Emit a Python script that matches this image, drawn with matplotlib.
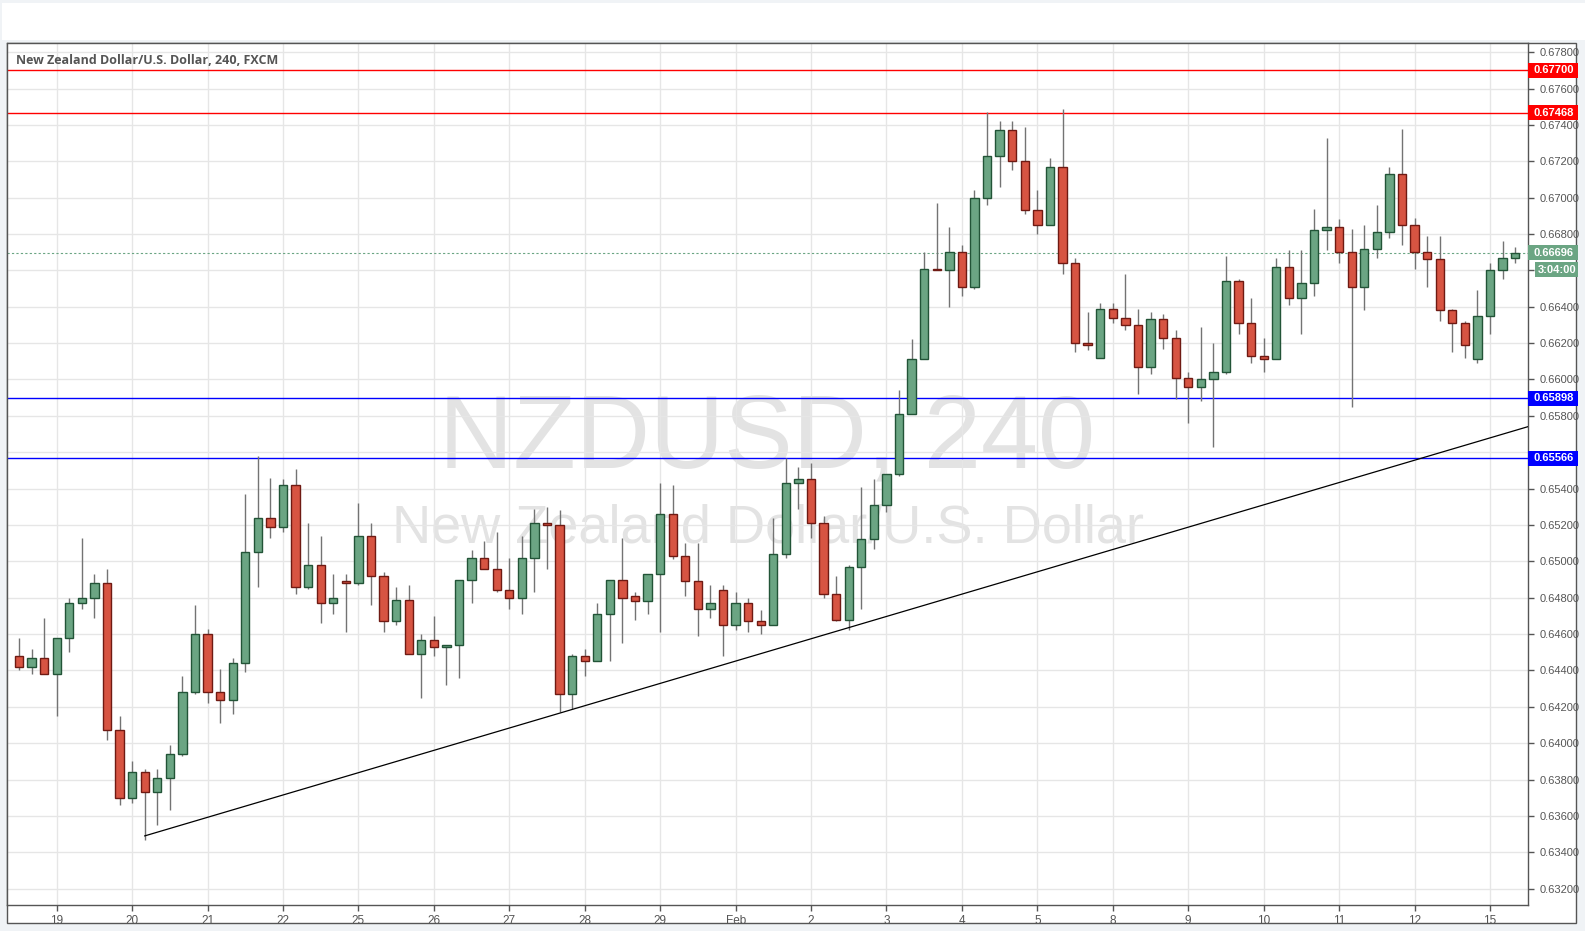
# NZD/USD 4H candlestick chart
import matplotlib
matplotlib.use('Agg')
import matplotlib.pyplot as plt
import matplotlib.transforms as mtransforms
from matplotlib.patches import Rectangle
import numpy as np

# 4H candles, 18 Jan - 15 Feb
opens = [0.6448, 0.6442, 0.6447, 0.6438, 0.6458, 0.6477, 0.6480, 0.6488, 0.6407, 0.6370,
         0.6384, 0.6373, 0.6381, 0.6394, 0.6428, 0.6460, 0.6428, 0.6424, 0.6444, 0.6505,
         0.6524, 0.6519, 0.6542, 0.6486, 0.6498, 0.6477, 0.6489, 0.6488, 0.6514, 0.6492,
         0.6467, 0.6479, 0.6449, 0.6457, 0.6453, 0.6454, 0.6490, 0.6502, 0.6496, 0.6484,
         0.6480, 0.6502, 0.6521, 0.6520, 0.6427, 0.6448, 0.6445, 0.6471, 0.6490, 0.6481,
         0.6478, 0.6493, 0.6526, 0.6503, 0.6489, 0.6474, 0.6484, 0.6465, 0.6477, 0.6467,
         0.6465, 0.6504, 0.6543, 0.6545, 0.6521, 0.6482, 0.6468, 0.6497, 0.6512, 0.6531,
         0.6548, 0.6581, 0.6611, 0.6661, 0.6660, 0.6670, 0.6651, 0.6700, 0.6723, 0.6737,
         0.6720, 0.6693, 0.6685, 0.6717, 0.6664, 0.6620, 0.6612, 0.6639, 0.6634, 0.6630,
         0.6607, 0.6633, 0.6623, 0.6601, 0.6596, 0.6600, 0.6604, 0.6654, 0.6631, 0.6613,
         0.6611, 0.6662, 0.6645, 0.6653, 0.6682, 0.6684, 0.6670, 0.6651, 0.6672, 0.6681,
         0.6713, 0.6685, 0.6670, 0.6666, 0.6638, 0.6631, 0.6611, 0.6635, 0.6660, 0.6667]
highs = [0.6458, 0.6452, 0.6469, 0.6458, 0.6480, 0.6513, 0.6493, 0.6496, 0.6415, 0.6390,
         0.6386, 0.6386, 0.6399, 0.6437, 0.6476, 0.6463, 0.6441, 0.6447, 0.6537, 0.6558,
         0.6546, 0.6545, 0.6551, 0.6521, 0.6514, 0.6493, 0.6493, 0.6532, 0.6521, 0.6494,
         0.6486, 0.6487, 0.6460, 0.6470, 0.6454, 0.6490, 0.6506, 0.6511, 0.6516, 0.6502,
         0.6514, 0.6529, 0.6530, 0.6528, 0.6449, 0.6452, 0.6477, 0.6490, 0.6513, 0.6483,
         0.6493, 0.6543, 0.6542, 0.6510, 0.6510, 0.6487, 0.6487, 0.6483, 0.6480, 0.6473,
         0.6524, 0.6557, 0.6552, 0.6554, 0.6525, 0.6492, 0.6498, 0.6541, 0.6545, 0.6548,
         0.6594, 0.6622, 0.6670, 0.6697, 0.6684, 0.6674, 0.6704, 0.6747, 0.6742, 0.6742,
         0.6739, 0.6704, 0.6722, 0.6749, 0.6667, 0.6637, 0.6642, 0.6642, 0.6658, 0.6639,
         0.6637, 0.6636, 0.6627, 0.6604, 0.6629, 0.6620, 0.6668, 0.6655, 0.6645, 0.6623,
         0.6667, 0.6671, 0.6671, 0.6694, 0.6733, 0.6688, 0.6683, 0.6685, 0.6696, 0.6717,
         0.6738, 0.6689, 0.6679, 0.6679, 0.6639, 0.6632, 0.6649, 0.6664, 0.6676, 0.6673]
lows = [0.6440, 0.6438, 0.6438, 0.6415, 0.6450, 0.6474, 0.6469, 0.6402, 0.6366, 0.6367,
        0.6347, 0.6355, 0.6363, 0.6393, 0.6427, 0.6422, 0.6411, 0.6416, 0.6439, 0.6486,
        0.6513, 0.6516, 0.6482, 0.6485, 0.6466, 0.6471, 0.6461, 0.6487, 0.6476, 0.6461,
        0.6465, 0.6449, 0.6425, 0.6448, 0.6432, 0.6436, 0.6477, 0.6496, 0.6483, 0.6474,
        0.6471, 0.6483, 0.6496, 0.6417, 0.6419, 0.6437, 0.6445, 0.6445, 0.6455, 0.6468,
        0.6471, 0.6461, 0.6501, 0.6481, 0.6459, 0.6469, 0.6448, 0.6462, 0.6461, 0.6460,
        0.6465, 0.6502, 0.6529, 0.6513, 0.6480, 0.6467, 0.6462, 0.6474, 0.6507, 0.6527,
        0.6547, 0.6581, 0.6611, 0.6660, 0.6640, 0.6646, 0.6650, 0.6696, 0.6706, 0.6715,
        0.6691, 0.6680, 0.6685, 0.6658, 0.6615, 0.6616, 0.6612, 0.6631, 0.6627, 0.6592,
        0.6603, 0.6617, 0.6589, 0.6576, 0.6588, 0.6563, 0.6603, 0.6625, 0.6609, 0.6604,
        0.6611, 0.6641, 0.6625, 0.6646, 0.6671, 0.6664, 0.6585, 0.6638, 0.6667, 0.6678,
        0.6674, 0.6661, 0.6651, 0.6632, 0.6615, 0.6612, 0.6609, 0.6625, 0.6655, 0.6664]
closes = [0.6442, 0.6447, 0.6438, 0.6458, 0.6477, 0.6480, 0.6488, 0.6407, 0.6370, 0.6384,
          0.6373, 0.6381, 0.6394, 0.6428, 0.6460, 0.6428, 0.6424, 0.6444, 0.6505, 0.6524,
          0.6519, 0.6542, 0.6486, 0.6498, 0.6477, 0.6480, 0.6488, 0.6514, 0.6492, 0.6467,
          0.6479, 0.6449, 0.6457, 0.6453, 0.6454, 0.6490, 0.6502, 0.6496, 0.6484, 0.6480,
          0.6502, 0.6521, 0.6520, 0.6427, 0.6448, 0.6445, 0.6471, 0.6490, 0.6480, 0.6478,
          0.6493, 0.6526, 0.6503, 0.6489, 0.6474, 0.6477, 0.6465, 0.6477, 0.6467, 0.6465,
          0.6504, 0.6543, 0.6545, 0.6521, 0.6482, 0.6468, 0.6497, 0.6512, 0.6531, 0.6548,
          0.6581, 0.6611, 0.6661, 0.6660, 0.6670, 0.6651, 0.6700, 0.6723, 0.6737, 0.6720,
          0.6693, 0.6685, 0.6717, 0.6664, 0.6620, 0.6619, 0.6639, 0.6634, 0.6630, 0.6607,
          0.6633, 0.6623, 0.6601, 0.6596, 0.6600, 0.6604, 0.6654, 0.6631, 0.6613, 0.6611,
          0.6662, 0.6645, 0.6653, 0.6682, 0.6684, 0.6670, 0.6651, 0.6672, 0.6681, 0.6713,
          0.6685, 0.6670, 0.6666, 0.6638, 0.6631, 0.6619, 0.6635, 0.6660, 0.6667, 0.66696]

day_ticks = [3, 9, 15, 21, 27, 33, 39, 45, 51, 57, 63, 69, 75, 81, 87, 93, 99, 105, 111, 117]
day_labels = ['19', '20', '21', '22', '25', '26', '27', '28', '29', 'Feb',
              '2', '3', '4', '5', '8', '9', '10', '11', '12', '15']

red_levels = [0.67700, 0.67468]
blue_levels = [0.65898, 0.65566]
last_price = 0.66696
countdown = '3:04:00'
trend_x = [10, 120]
trend_y = [0.6349, 0.6574]

W, H = 1585, 931
fig = plt.figure(figsize=(W / 100, H / 100), dpi=100, facecolor='#f0f3f6')

# white top bar and chart pane (behind the axes)
fig.add_artist(Rectangle((2 / W, 1 - 40 / H), 1583 / W, 37 / H, transform=fig.transFigure,
                         facecolor='white', edgecolor='none', zorder=-10))
fig.add_artist(Rectangle((6.7 / W, 1 - 923.3 / H), (1575.7 - 6.7) / W, (923.3 - 42.7) / H,
                         transform=fig.transFigure, facecolor='white', edgecolor='#555555',
                         lw=1, zorder=-10))

ax = fig.add_axes([6.7 / W, 1 - 905 / H, (1528.3 - 6.7) / W, (905 - 42.7) / H])
ax.set_facecolor('white')

o = np.array(opens); h = np.array(highs); l = np.array(lows); c = np.array(closes)
x = np.arange(len(o))
up = c >= o

# candles
ax.vlines(x, l, h, color='#737373', lw=1, zorder=3)
body_bottom = np.minimum(o, c)
body_h = np.maximum(np.abs(c - o), 0.00003)
ax.bar(x[up], body_h[up], bottom=body_bottom[up], width=0.66, color='#6ba583',
       edgecolor='#225437', lw=1, zorder=4)
ax.bar(x[~up], body_h[~up], bottom=body_bottom[~up], width=0.66, color='#d75442',
       edgecolor='#6f1a13', lw=1, zorder=4)

# horizontal levels, price line, trend line
for v in red_levels:
    ax.axhline(v, color='#ff0000', lw=1, zorder=2)
for v in blue_levels:
    ax.axhline(v, color='#0000ff', lw=1, zorder=2)
ax.axhline(last_price, color='#6ba583', lw=0.8, ls=(0, (2, 2)), zorder=2)
ax.plot(trend_x, trend_y, color='black', lw=0.9, zorder=5, clip_on=True)

ax.set_xlim(-0.98, 120.05)
ax.set_ylim(0.63110, 0.67852)

# axes styling
ax.set_xticks(day_ticks)
ax.set_xticklabels(day_labels)
yt = np.arange(0.632, 0.6781, 0.002)
ax.set_yticks(yt)
# labels at 0.666 and 0.656 sit under the price boxes in the reference
ax.set_yticklabels(['' if round(v, 3) in (0.666, 0.656) else '%.5f' % v for v in yt])
ax.yaxis.tick_right()
ax.tick_params(axis='both', colors='#555555', labelcolor='#555555', length=4, width=1,
               labelsize=8, labelfontfamily='Liberation Sans')
ax.tick_params(axis='x', labelsize=8.5, pad=3)
ax.tick_params(axis='y', pad=4)
ax.set_axisbelow(True)
ax.grid(True, color='#e6e6e6', lw=1)
for s in ax.spines.values():
    s.set_color('#555555')
    s.set_linewidth(1)

# watermark and title
ax.text(0.5, 0.538, 'NZDUSD, 240', transform=ax.transAxes, ha='center', va='center',
        fontsize=74, color='#e3e3e3', family='Liberation Sans', zorder=0.1)
ax.text(0.5, 0.437, 'New Zealand Dollar/U.S. Dollar', transform=ax.transAxes, ha='center',
        va='center', fontsize=39, color='#e3e3e3', family='Liberation Sans', zorder=0.1)
ax.text(0.0059, 0.9788, 'New Zealand Dollar/U.S. Dollar, 240, FXCM', transform=ax.transAxes,
        ha='left', va='center', fontsize=9, fontweight='bold', color='#555555',
        family='Open Sans', zorder=6)

# price labels on the right axis
tr = mtransforms.blended_transform_factory(ax.transAxes, ax.transData)
px_w = 1 / (1528.3 - 6.7)
px_h = (0.67852 - 0.63110) / (905 - 42.7)


def price_box(v, text, color, x0=0, x1=50, dy=0):
    yc = v - dy * px_h
    ax.add_patch(Rectangle((1 + x0 * px_w, yc - 7.5 * px_h), (x1 - x0) * px_w, 15 * px_h,
                           transform=tr, facecolor=color, edgecolor='none', clip_on=False,
                           zorder=10))
    ax.text(1 + (x0 + x1) / 2 * px_w, yc, text, transform=tr, ha='center', va='center',
            fontsize=8, fontweight='bold', color='white', family='Liberation Sans',
            clip_on=False, zorder=11)


for v in red_levels:
    price_box(v, '%.5f' % v, '#ff0000')
for v in blue_levels:
    price_box(v, '%.5f' % v, '#0000ff')
price_box(last_price, '%.5f' % last_price, '#6ba583')
price_box(last_price, countdown, '#6ba583', x0=7, x1=50, dy=17)

fig.savefig('out.png', dpi=100, facecolor=fig.get_facecolor())
